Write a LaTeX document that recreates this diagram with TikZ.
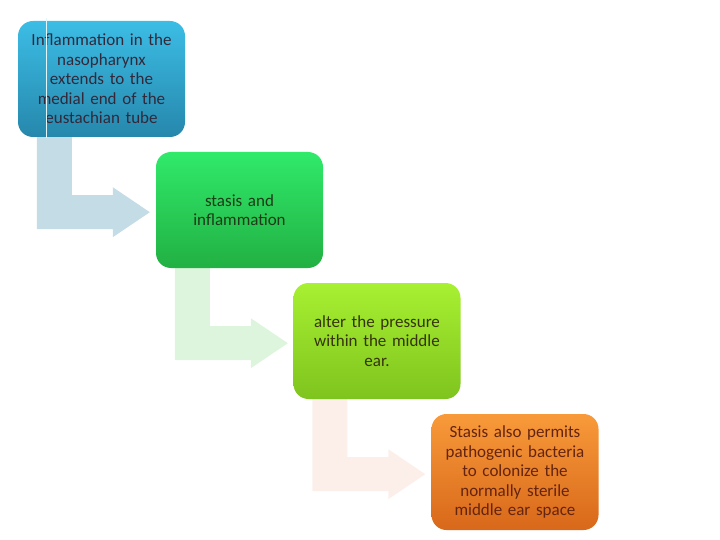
\documentclass[tikz,border=0pt]{standalone}
\usepackage{fontspec}
\setmainfont{Carlito}
\definecolor{bAt}{HTML}{3CBDE6}\definecolor{bAb}{HTML}{2687AB}
\definecolor{bBt}{HTML}{30EA6A}\definecolor{bBb}{HTML}{22B043}
\definecolor{bCt}{HTML}{A8F032}\definecolor{bCb}{HTML}{7EC41E}
\definecolor{bDt}{HTML}{F89A3A}\definecolor{bDb}{HTML}{D8681A}
\definecolor{arA}{HTML}{C3DCE6}\definecolor{arB}{HTML}{DCF5DC}\definecolor{arC}{HTML}{FCEFE9}
\definecolor{txA}{HTML}{33283A}\definecolor{txB}{HTML}{1E3A18}
\definecolor{txC}{HTML}{36340A}\definecolor{txD}{HTML}{64240F}
\pgfdeclarelayer{bg}
\pgfsetlayers{bg,main}
\tikzset{
  box/.style={rounded corners=15pt, minimum width=167pt, minimum height=116pt,
    text width=160pt, align=center, inner sep=0pt,
    font=\fontsize{17pt}{19.5pt}\selectfont},
}
\newcommand{\bentarrow}[2]{%
  \fill[#2] ([xshift=19pt]#1.south west) -- ++(35,0) -- ++(0,58) -- ++(41,0) -- ++(0,-8)
    -- ++(37,25) -- ++(-37,25) -- ++(0,-8) -- ++(-76,0) -- cycle;}
\begin{document}
\begin{tikzpicture}[x=1pt,y=-1pt]
\path[use as bounding box] (0,0) rectangle (720,540);
\node[box, top color=bAt, bottom color=bAb, text=txA] (b1) at (101.5,79)
  {Inflammation in the\\nasopharynx\\extends to the\\medial end of the\\eustachian tube};
\node[box, top color=bBt, bottom color=bBb, text=txB] (b2) at (239.5,210)
  {stasis and\\inflammation};
\node[box, top color=bCt, bottom color=bCb, text=txC] (b3) at (377,341)
  {alter the pressure\\within the middle\\ear.};
\node[box, top color=bDt, bottom color=bDb, text=txD] (b4) at (515,472)
  {Stasis also permits\\pathogenic bacteria\\to colonize the\\normally sterile\\middle ear space};
\begin{pgfonlayer}{bg}
\bentarrow{b1}{arA}
\bentarrow{b2}{arB}
\bentarrow{b3}{arC}
\end{pgfonlayer}
\coordinate (lt) at ([xshift=29pt,yshift=3pt]b1.north west);
\coordinate (lb) at ([xshift=29pt,yshift=-1pt]b1.south west);
\draw[white!85!bAt, line width=0.8pt] (lt) -- (lb);
\end{tikzpicture}
\end{document}
